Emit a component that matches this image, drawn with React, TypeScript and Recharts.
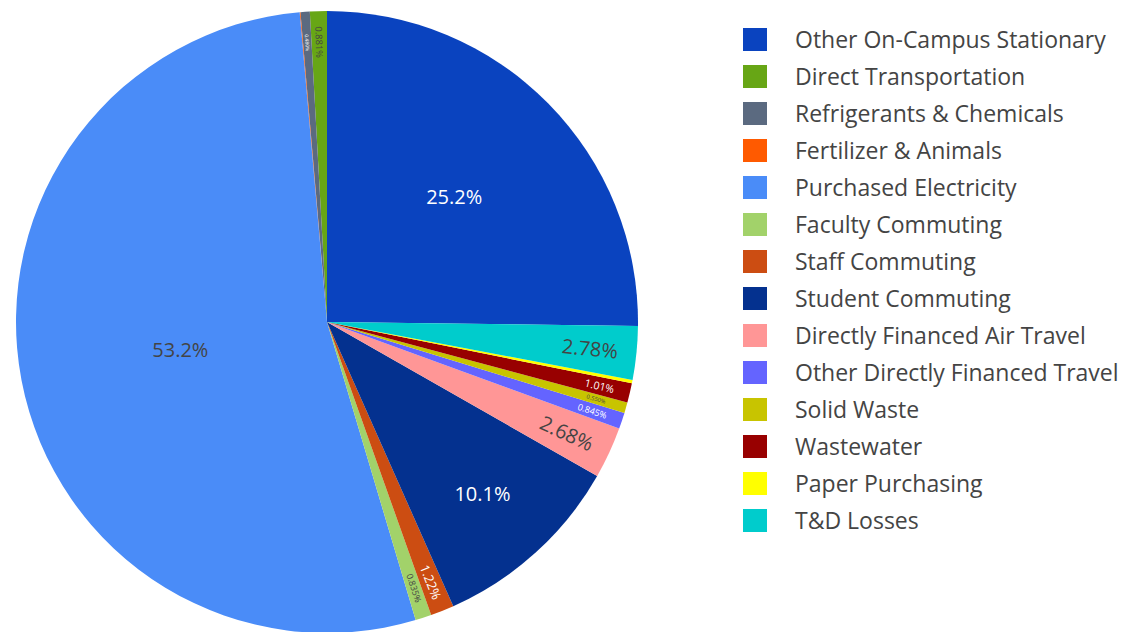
import React from 'react';
import { PieChart, Pie, Cell, Legend } from 'recharts';

const categories = [
  'Other On-Campus Stationary',
  'Direct Transportation',
  'Refrigerants & Chemicals',
  'Fertilizer & Animals',
  'Purchased Electricity',
  'Faculty Commuting',
  'Staff Commuting',
  'Student Commuting',
  'Directly Financed Air Travel',
  'Other Directly Financed Travel',
  'Solid Waste',
  'Wastewater',
  'Paper Purchasing',
  'T&D Losses',
];

const shares = [25.2, 0.881, 0.48, 0.04, 53.2, 0.835, 1.22, 10.1, 2.68, 0.845, 0.55, 1.01, 0.18, 2.78];

const colors = [
  '#0a43bf', '#67a615', '#5b6a80', '#ff5a00', '#4a8cf8', '#a2d26a', '#cc4d12',
  '#04318f', '#ff9696', '#6464ff', '#c8c400', '#980000', '#ffff00', '#00cccc',
];

const data = categories.map((name, i) => ({ name, value: shares[i] }));
const total = shares.reduce((a, b) => a + b, 0);
const startAngle = 90 - (shares[0] / total) * 360;

const RAD = Math.PI / 180;
const FONT = '"Open Sans", sans-serif';

function textColor(hex: string) {
  const r = parseInt(hex.slice(1, 3), 16);
  const g = parseInt(hex.slice(3, 5), 16);
  const b = parseInt(hex.slice(5, 7), 16);
  const br = (r * 299 + g * 587 + b * 114) / 1000;
  return br >= 128 ? '#444' : '#fff';
}

const renderLabel = (props: any) => {
  const { cx, cy, midAngle, outerRadius, index, startAngle: sa, endAngle: ea } = props;
  const pct = shares[index];
  let rf = 0.9;
  if (pct >= 40) rf = 0.48;
  else if (pct >= 20) rf = 0.575;
  else if (pct >= 5) rf = 0.745;
  else if (pct >= 2) rf = 0.85;
  const r = outerRadius * rf;
  const span = Math.abs(ea - sa) * RAD;
  let fs = 20;
  let rot = 0;
  if (pct < 5) {
    fs = Math.min(20, span * r * 0.6);
    rot = -midAngle;
    if (Math.cos(midAngle * RAD) < 0) rot += 180;
  }
  if (fs < 3) return null;
  const x = cx + r * Math.cos(midAngle * RAD);
  const y = cy - r * Math.sin(midAngle * RAD);
  return (
    <text
      x={x}
      y={y}
      fill={textColor(colors[index])}
      fontSize={fs}
      fontFamily={FONT}
      textAnchor="middle"
      dominantBaseline="central"
      transform={`rotate(${rot} ${x} ${y})`}
    >
      {pct.toPrecision(3)}%
    </text>
  );
};

const renderLegend = () => (
  <div style={{ fontFamily: FONT }}>
    {categories.map((name, i) => (
      <div key={name} style={{ display: 'flex', alignItems: 'center', height: 37 }}>
        <div style={{ width: 24, height: 23, background: colors[i], flex: 'none' }} />
        <div style={{ marginLeft: 28, fontSize: 23, color: '#444', whiteSpace: 'nowrap', lineHeight: '37px' }}>{name}</div>
      </div>
    ))}
  </div>
);

export default function App() {
  return (
    <div style={{ position: 'absolute', left: 0, top: 0, background: '#fff' }}>
      <PieChart width={1128} height={632} margin={{ top: 0, right: 0, bottom: 0, left: 0 }}>
        <Pie
          data={data}
          dataKey="value"
          nameKey="name"
          cx={327}
          cy={322}
          outerRadius={311}
          startAngle={startAngle}
          endAngle={startAngle + 360}
          stroke="none"
          label={renderLabel}
          labelLine={false}
          isAnimationActive={false}
        >
          {data.map((d, i) => (
            <Cell key={d.name} fill={colors[i]} stroke="none" />
          ))}
        </Pie>
        <Legend
          layout="vertical"
          verticalAlign="top"
          align="right"
          content={renderLegend}
          wrapperStyle={{ left: 743, top: 21, width: 385 }}
        />
      </PieChart>
    </div>
  );
}
